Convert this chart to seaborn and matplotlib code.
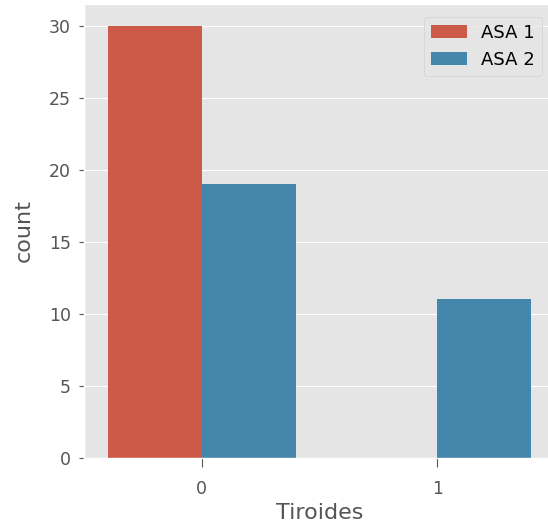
import numpy as np
import matplotlib
matplotlib.use("Agg")
import matplotlib.pyplot as plt
import pandas as pd
import seaborn as sns

# counts
tiroides = [0, 0, 1, 1]
asa = ['ASA 1', 'ASA 2', 'ASA 1', 'ASA 2']
counts = [30, 19, 0, 11]

df = pd.DataFrame({'Tiroides': tiroides, 'ASA': asa, 'count': counts})

plt.style.use('ggplot')

fig, ax = plt.subplots(figsize=(5.48, 5.31), dpi=100)
sns.barplot(data=df, x='Tiroides', y='count', hue='ASA',
            palette=['#E24A33', '#348ABD'], ax=ax)
ax.set_xlabel('Tiroides', fontsize=16)
ax.set_ylabel('count', fontsize=16)
ax.tick_params(labelsize=12.5)
ax.tick_params(axis='x', length=6.5, pad=9)
ax.tick_params(axis='y', length=3.5, pad=6)
ax.xaxis.set_label_coords(0.5, -0.1)
ax.yaxis.set_label_coords(-0.107, 0.5)
ax.legend(loc='upper right', fontsize=13, borderaxespad=0.7)
plt.subplots_adjust(left=84/548, right=555/548, top=1 - 4/531, bottom=73/531)
plt.savefig('out.png', dpi=100)
